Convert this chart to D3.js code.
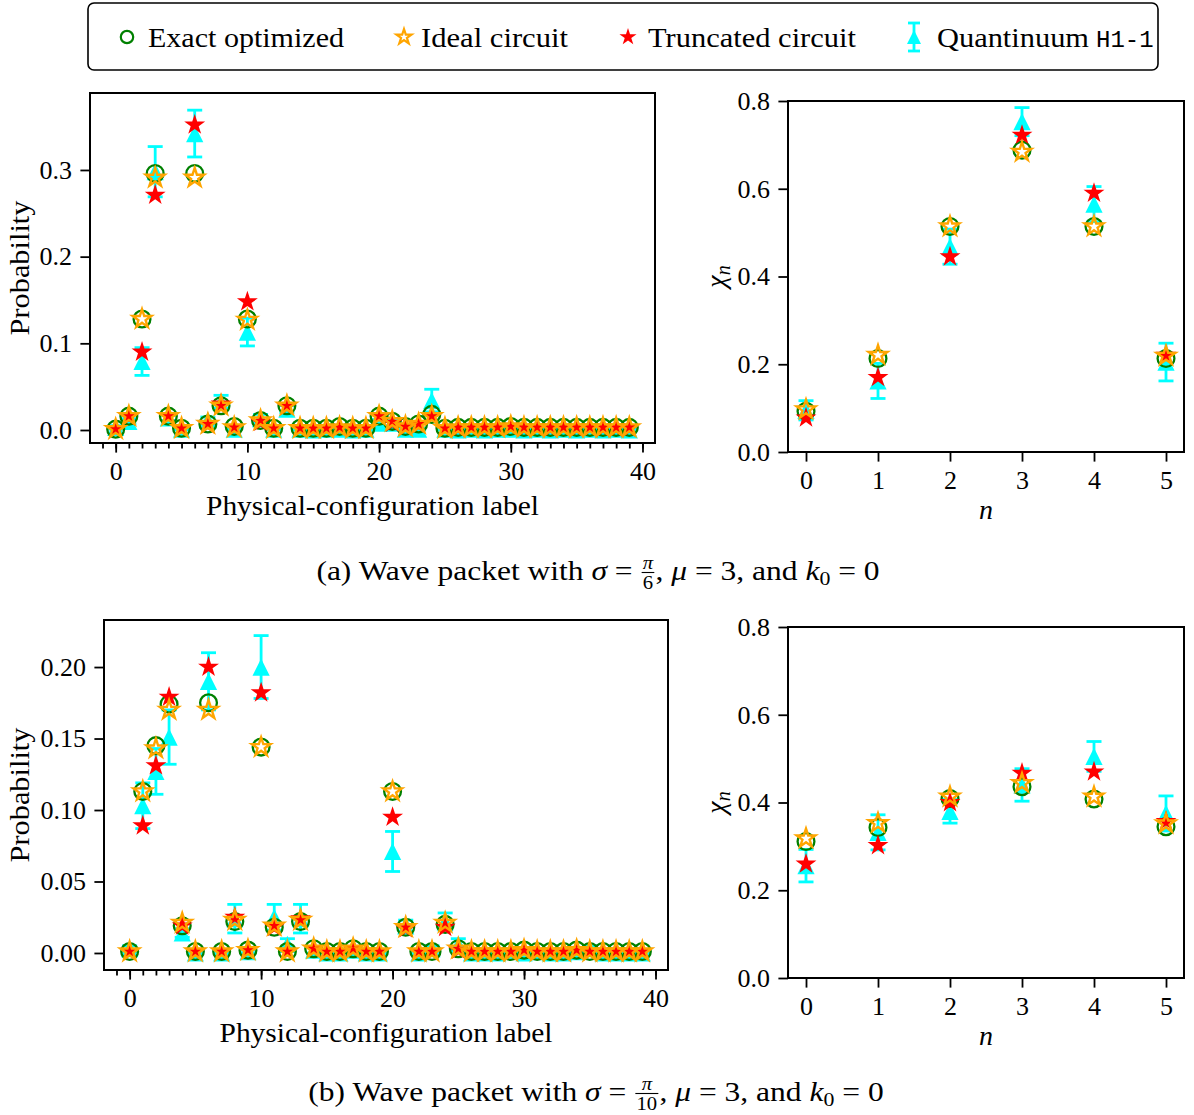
<!DOCTYPE html>
<html>
<head>
<meta charset="utf-8">
<script src="https://cdn.jsdelivr.net/npm/d3@7"></script>
<style>
  body { margin: 0; background: #fff; }
  svg text { font-family: "Liberation Serif", serif; fill: #000; white-space: pre; }
</style>
</head>
<body>
<svg id="fig" width="1194" height="1115"></svg>
<script>
// ---- data ----
const configLabels = d3.range(40);
const nLabels = d3.range(6);

const probA_exact = [0.001,0.016,0.128,0.296,0.016,0.002,0.296,0.007,0.028,0.004,0.128,0.011,0.002,0.028,0.002,0.002,0.002,0.004,0.002,0.002,0.016,0.010,0.004,0.007,0.018,0.002,0.003,0.003,0.003,0.003,0.004,0.003,0.003,0.003,0.003,0.003,0.003,0.003,0.003,0.003];
const probA_ideal = [0.001,0.016,0.128,0.291,0.016,0.002,0.291,0.007,0.028,0.003,0.127,0.011,0.002,0.028,0.002,0.002,0.002,0.003,0.002,0.002,0.016,0.010,0.004,0.007,0.016,0.002,0.003,0.003,0.003,0.003,0.004,0.003,0.003,0.003,0.003,0.003,0.003,0.003,0.003,0.003];
const probA_trunc = [0.001,0.015,0.090,0.271,0.016,0.002,0.352,0.006,0.030,0.003,0.148,0.009,0.002,0.027,0.002,0.002,0.002,0.003,0.002,0.002,0.016,0.008,0.003,0.006,0.016,0.002,0.002,0.003,0.002,0.003,0.004,0.002,0.003,0.002,0.003,0.002,0.003,0.002,0.002,0.002];
const probA_quant = [0.003,0.010,0.079,0.298,0.014,0.001,0.342,0.011,0.032,0.001,0.113,0.013,0.001,0.024,0.001,0.000,0.001,0.001,0.000,0.001,0.008,0.008,0.001,0.001,0.034,0.001,0.000,0.001,0.000,0.001,0.001,0.000,0.001,0.000,0.001,0.000,0.001,0.000,0.001,0.000];
const probA_err   = [0.002,0.003,0.016,0.029,0.003,0.001,0.027,0.004,0.008,0.001,0.016,0.005,0.001,0.004,0.001,0.001,0.001,0.001,0.001,0.001,0.004,0.003,0.001,0.001,0.013,0.001,0.001,0.001,0.001,0.001,0.001,0.001,0.001,0.001,0.001,0.001,0.001,0.001,0.001,0.001];

const probB_exact = [0.001,0.113,0.145,0.174,0.019,0.001,0.175,0.001,0.022,0.002,0.144,0.018,0.001,0.022,0.003,0.001,0.001,0.003,0.001,0.001,0.113,0.018,0.001,0.001,0.020,0.003,0.001,0.001,0.001,0.001,0.002,0.001,0.001,0.001,0.002,0.001,0.001,0.001,0.001,0.001];
const probB_ideal = [0.001,0.113,0.143,0.170,0.021,0.001,0.170,0.001,0.023,0.002,0.144,0.019,0.001,0.023,0.003,0.001,0.001,0.003,0.001,0.001,0.113,0.018,0.001,0.001,0.021,0.003,0.001,0.001,0.001,0.001,0.002,0.001,0.001,0.001,0.002,0.001,0.001,0.001,0.001,0.001];
const probB_trunc = [0.001,0.089,0.131,0.179,0.019,0.001,0.200,0.001,0.025,0.002,0.182,0.018,0.001,0.024,0.003,0.001,0.001,0.003,0.001,0.001,0.095,0.017,0.001,0.001,0.018,0.002,0.001,0.001,0.001,0.001,0.002,0.001,0.001,0.001,0.002,0.001,0.001,0.001,0.001,0.001];
const probB_quant = [0.003,0.103,0.127,0.151,0.014,0.000,0.190,0.000,0.024,0.001,0.200,0.025,0.006,0.024,0.002,0.000,0.000,0.002,0.000,0.000,0.071,0.019,0.000,0.003,0.022,0.006,0.000,0.000,0.000,0.002,0.000,0.001,0.000,0.000,0.001,0.003,0.000,0.000,0.000,0.000];
const probB_err   = [0.002,0.016,0.016,0.019,0.003,0.001,0.020,0.001,0.010,0.001,0.022,0.009,0.004,0.010,0.002,0.001,0.001,0.001,0.001,0.001,0.014,0.004,0.001,0.002,0.006,0.004,0.001,0.001,0.001,0.001,0.001,0.001,0.001,0.001,0.001,0.002,0.001,0.001,0.001,0.001];

const chiA_exact = [0.093,0.213,0.514,0.688,0.514,0.213];
const chiA_ideal = [0.097,0.221,0.514,0.684,0.514,0.219];
const chiA_trunc = [0.078,0.170,0.445,0.722,0.590,0.221];
const chiA_quant = [0.095,0.162,0.468,0.753,0.565,0.205];
const chiA_err   = [0.022,0.040,0.040,0.032,0.040,0.043];

const chiB_exact = [0.311,0.343,0.409,0.436,0.408,0.345];
const chiB_ideal = [0.318,0.353,0.413,0.444,0.413,0.352];
const chiB_trunc = [0.260,0.302,0.400,0.467,0.470,0.357];
const chiB_quant = [0.256,0.332,0.380,0.440,0.505,0.375];
const chiB_err   = [0.037,0.040,0.027,0.037,0.034,0.040];

const probTicksA = [0, 0.1, 0.2, 0.3];
const probTicksB = [0, 0.05, 0.10, 0.15, 0.20];
const chiTicks = [0, 0.2, 0.4, 0.6, 0.8];
const configTicks = [0, 10, 20, 30, 40];

const legendLabels = ["Exact optimized", "Ideal circuit", "Truncated circuit", "Quantinuum"];

// ---- styles ----
const GREEN = "#008000", ORANGE = "#ffa500", RED = "#ff0000", CYAN = "#00ffff";
const svg = d3.select("#fig");

function starPath(R) {
  const r = R * 0.382;
  const pts = d3.range(10).map(i => {
    const a = -Math.PI / 2 + i * Math.PI / 5;
    const rr = i % 2 === 0 ? R : r;
    return [rr * Math.cos(a), rr * Math.sin(a)];
  });
  return "M" + pts.map(p => p.join(",")).join("L") + "Z";
}
function triPath(h) {
  return `M0,${-h}L${h},${h}L${-h},${h}Z`;
}

function drawPanel(p) {
  const [x0, y0, x1, y1] = p.frame;
  const x = d3.scaleLinear().domain(p.xDomain).range([x0, x1]);
  const y = d3.scaleLinear().domain(p.yDomain).range([y1, y0]);
  const g = svg.append("g");

  // ticks
  g.append("g").attr("transform", `translate(0,${y1})`)
    .call(d3.axisBottom(x).tickValues(p.xTicks).tickSizeInner(9.6).tickSizeOuter(0)
      .tickPadding(9).tickFormat(d3.format("d")));
  if (p.xMinor) {
    g.append("g").attr("transform", `translate(0,${y1})`)
      .call(d3.axisBottom(x).tickValues(p.xMinor).tickSizeInner(5.5).tickSizeOuter(0).tickFormat(""));
  }
  g.append("g").attr("transform", `translate(${x0},0)`)
    .call(d3.axisLeft(y).tickValues(p.yTicks).tickSizeInner(9.6).tickSizeOuter(0)
      .tickPadding(8.5).tickFormat(d3.format(p.yFmt)));
  g.selectAll(".domain").remove();
  g.selectAll(".tick line").attr("stroke", "#000").attr("stroke-width", 1.8);
  g.selectAll(".tick text").attr("font-size", 26).attr("font-family", "Liberation Serif");

  // frame
  g.append("rect").attr("x", x0).attr("y", y0).attr("width", x1 - x0).attr("height", y1 - y0)
    .attr("fill", "none").attr("stroke", "#000").attr("stroke-width", 2);

  // marks
  const xs = p.xs;
  const m = g.append("g");
  const eb = m.append("g").attr("stroke", CYAN).attr("stroke-width", 2.8).attr("fill", "none");
  xs.forEach((d, i) => {
    const cx = x(d), lo = y(p.quant[i] - p.err[i]), hi = y(p.quant[i] + p.err[i]);
    eb.append("line").attr("x1", cx).attr("x2", cx).attr("y1", lo).attr("y2", hi);
    eb.append("line").attr("x1", cx - 7.5).attr("x2", cx + 7.5).attr("y1", lo).attr("y2", lo);
    eb.append("line").attr("x1", cx - 7.5).attr("x2", cx + 7.5).attr("y1", hi).attr("y2", hi);
  });
  m.append("g").selectAll("path").data(xs).join("path")
    .attr("d", triPath(8.6)).attr("fill", CYAN)
    .attr("transform", (d, i) => `translate(${x(d)},${y(p.quant[i])})`);
  m.append("g").selectAll("circle").data(xs).join("circle")
    .attr("cx", d => x(d)).attr("cy", (d, i) => y(p.exact[i])).attr("r", 8.4)
    .attr("fill", "none").attr("stroke", GREEN).attr("stroke-width", 2.3);
  m.append("g").selectAll("path").data(xs).join("path")
    .attr("d", starPath(11)).attr("fill", RED)
    .attr("transform", (d, i) => `translate(${x(d)},${y(p.trunc[i])})`);
  m.append("g").selectAll("path").data(xs).join("path")
    .attr("d", starPath(9.8)).attr("fill", "none").attr("stroke", ORANGE).attr("stroke-width", 2.4)
    .attr("transform", (d, i) => `translate(${x(d)},${y(p.ideal[i])})`);

  // labels
  if (p.xlabelItalic) {
    g.append("text").attr("x", (x0 + x1) / 2).attr("y", y1 + 67).attr("text-anchor", "middle")
      .attr("font-size", 28).attr("font-style", "italic").text(p.xlabel);
  } else {
    g.append("text").attr("x", (x0 + x1) / 2).attr("y", y1 + 72).attr("text-anchor", "middle")
      .attr("font-size", 27.4).attr("textLength", 333).attr("lengthAdjust", "spacingAndGlyphs")
      .text(p.xlabel);
  }
  const cy = (y0 + y1) / 2;
  if (p.ylabel === "chi") {
    const t = g.append("text").attr("transform", `translate(${x0 - 63},${cy}) rotate(-90)`)
      .attr("text-anchor", "middle").attr("font-size", 28).attr("font-style", "italic");
    t.append("tspan").text("χ");
    t.append("tspan").attr("font-size", 20).attr("dy", 5).text("n");
  } else {
    g.append("text").attr("transform", `translate(${p.ylabelX},${cy}) rotate(-90)`)
      .attr("text-anchor", "middle").attr("dy", "0.3em").attr("font-size", 27.4)
      .attr("textLength", 135).attr("lengthAdjust", "spacingAndGlyphs").text(p.ylabel);
  }
}

const panels = [
  { frame: [90, 93, 655, 443], xDomain: [-1.95, 40.95], yDomain: [-0.015, 0.3888],
    xTicks: configTicks, xMinor: d3.range(-1, 41), yTicks: probTicksA, yFmt: ".1f",
    xs: configLabels, exact: probA_exact, ideal: probA_ideal, trunc: probA_trunc,
    quant: probA_quant, err: probA_err, xlabel: "Physical-configuration label",
    ylabel: "Probability", ylabelX: 21 },
  { frame: [788, 101, 1184, 452], xDomain: [-0.25, 5.25], yDomain: [0, 0.8],
    xTicks: nLabels, yTicks: chiTicks, yFmt: ".1f",
    xs: nLabels, exact: chiA_exact, ideal: chiA_ideal, trunc: chiA_trunc,
    quant: chiA_quant, err: chiA_err, xlabel: "n", xlabelItalic: true, ylabel: "chi" },
  { frame: [104, 620, 668, 970], xDomain: [-1.95, 40.95], yDomain: [-0.0119, 0.2329],
    xTicks: configTicks, xMinor: d3.range(-1, 41), yTicks: probTicksB, yFmt: ".2f",
    xs: configLabels, exact: probB_exact, ideal: probB_ideal, trunc: probB_trunc,
    quant: probB_quant, err: probB_err, xlabel: "Physical-configuration label",
    ylabel: "Probability", ylabelX: 21 },
  { frame: [788, 627, 1184, 978], xDomain: [-0.25, 5.25], yDomain: [0, 0.8],
    xTicks: nLabels, yTicks: chiTicks, yFmt: ".1f",
    xs: nLabels, exact: chiB_exact, ideal: chiB_ideal, trunc: chiB_trunc,
    quant: chiB_quant, err: chiB_err, xlabel: "n", xlabelItalic: true, ylabel: "chi" }
];
panels.forEach(drawPanel);

// ---- legend ----
const leg = svg.append("g");
leg.append("rect").attr("x", 88).attr("y", 3).attr("width", 1070).attr("height", 67).attr("rx", 6)
  .attr("fill", "#fff").attr("stroke", "#000").attr("stroke-width", 1.6);
const ly = 37;
leg.append("circle").attr("cx", 127).attr("cy", ly).attr("r", 6.2)
  .attr("fill", "none").attr("stroke", GREEN).attr("stroke-width", 2.2);
leg.append("path").attr("d", starPath(8)).attr("transform", `translate(404,${ly})`)
  .attr("fill", "none").attr("stroke", ORANGE).attr("stroke-width", 2.2);
leg.append("path").attr("d", starPath(9)).attr("transform", `translate(628,${ly})`).attr("fill", RED);
const qg = leg.append("g").attr("stroke", CYAN).attr("stroke-width", 2.8);
qg.append("line").attr("x1", 914).attr("x2", 914).attr("y1", ly - 14).attr("y2", ly + 14);
qg.append("line").attr("x1", 908).attr("x2", 920).attr("y1", ly - 14).attr("y2", ly - 14);
qg.append("line").attr("x1", 908).attr("x2", 920).attr("y1", ly + 14).attr("y2", ly + 14);
leg.append("path").attr("d", triPath(7)).attr("transform", `translate(914,${ly})`).attr("fill", CYAN);

const legText = [[148, 196], [421, 147], [648, 208], [937, 152]];
legText.forEach(([lx, w], i) => {
  leg.append("text").attr("x", lx).attr("y", ly + 9.5).attr("font-size", 27.4)
    .attr("textLength", w).attr("lengthAdjust", "spacingAndGlyphs").text(legendLabels[i]);
});
leg.append("text").attr("x", 1096).attr("y", ly + 9.5).attr("font-size", 24)
  .style("font-family", "'Liberation Mono', monospace").text("H1-1");

// ---- captions ----
// laid out piece by piece, then the whole line is widened toward Computer Modern proportions
function caption(cx, by, tag, den, K) {
  const outer = svg.append("g");
  const g = outer.append("g");
  let cur = 0;
  const add = (txt, opts = {}) => {
    const t = g.append("text").attr("x", cur).attr("y", opts.dy || 0)
      .attr("font-size", opts.size || 27.4).text(txt);
    if (opts.italic) t.attr("font-style", "italic");
    cur += t.node().getComputedTextLength();
    return t;
  };
  add(`(${tag}) Wave packet with `);
  add("σ", { italic: true });
  add(" = ");
  const fx = cur + 1;
  const num = g.append("text").attr("y", -11).attr("font-size", 18).attr("font-style", "italic").text("π");
  const dn = g.append("text").attr("y", 9).attr("font-size", 18).text(den);
  const fw = Math.max(num.node().getComputedTextLength(), dn.node().getComputedTextLength()) + 2;
  num.attr("x", fx + fw / 2).attr("text-anchor", "middle");
  dn.attr("x", fx + fw / 2).attr("text-anchor", "middle");
  g.append("line").attr("x1", fx).attr("x2", fx + fw).attr("y1", -7.5).attr("y2", -7.5)
    .attr("stroke", "#000").attr("stroke-width", 1.1);
  cur = fx + fw + 1;
  add(", ");
  add("μ", { italic: true });
  add(" = 3, and ");
  add("k", { italic: true });
  add("0", { size: 19, dy: 5 });
  add(" = 0");
  outer.attr("transform", `translate(${cx - cur * K / 2},${by}) scale(${K},1)`);
}
caption(598, 580, "a", "6", 1.15);
caption(596, 1101, "b", "10", 1.15);
</script>
</body>
</html>
